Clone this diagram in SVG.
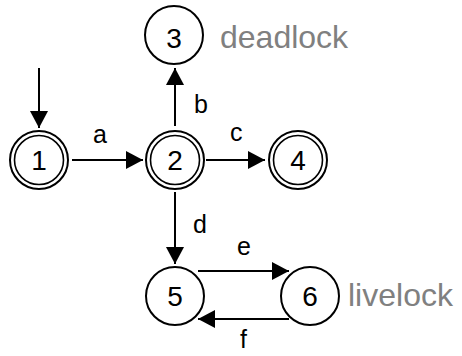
<svg xmlns="http://www.w3.org/2000/svg" width="462" height="356" viewBox="0 0 462 356">
<defs>
<marker id="arr" markerUnits="userSpaceOnUse" markerWidth="18" markerHeight="20" refX="17" refY="9" orient="auto">
<path d="M0,0 L17,9 L0,18 Z" fill="#000"/>
</marker>
</defs>
<style>
.c{fill:#fff;stroke:#000;stroke-width:2}
.ci{fill:none;stroke:#000;stroke-width:1.6}
.n{font-family:"Liberation Sans",Arial,sans-serif;font-size:28px;fill:#000;text-anchor:middle}
.l{font-family:"Liberation Sans",Arial,sans-serif;font-size:25px;fill:#000}
.g{font-family:"Liberation Sans",Arial,sans-serif;font-size:32px;fill:#808080}
.e{stroke:#000;stroke-width:2;fill:none;marker-end:url(#arr)}
</style>
<rect width="462" height="356" fill="#fff"/>
<g id="connectors">
<line class="e" x1="39" y1="68" x2="39" y2="128"/>
<line class="e" x1="72" y1="160" x2="143" y2="160"/>
<line class="e" x1="175" y1="126" x2="175" y2="68"/>
<line class="e" x1="206" y1="160" x2="265" y2="160"/>
<line class="e" x1="175" y1="192" x2="175" y2="264"/>
<line class="e" x1="198" y1="271" x2="289" y2="271"/>
<line class="e" x1="289" y1="319" x2="198" y2="319"/>
<text class="l" x="93" y="143">a</text>
<text class="l" x="194" y="113">b</text>
<text class="l" x="230" y="141">c</text>
<text class="l" x="193" y="233">d</text>
<text class="l" x="237" y="255">e</text>
<text class="l" x="240" y="348">f</text>
</g>
<g id="node1"><circle class="c" cx="39" cy="160" r="29"/><circle class="ci" cx="39" cy="160" r="24.5"/><text class="n" x="39" y="170">1</text></g>
<g id="node2"><circle class="c" cx="175" cy="160" r="29"/><circle class="ci" cx="175" cy="160" r="24.5"/><text class="n" x="175" y="170">2</text></g>
<g id="node3"><circle class="c" cx="174" cy="35" r="29"/><text class="n" x="174" y="48">3</text><text class="g" x="220" y="48">deadlock</text></g>
<g id="node4"><circle class="c" cx="298" cy="160" r="29"/><circle class="ci" cx="298" cy="160" r="24.5"/><text class="n" x="298" y="170">4</text></g>
<g id="node5"><circle class="c" cx="175" cy="296" r="29"/><text class="n" x="175" y="306">5</text></g>
<g id="node6"><circle class="c" cx="310" cy="296" r="29"/><text class="n" x="310" y="306">6</text><text class="g" x="348" y="306">livelock</text></g>
</svg>
